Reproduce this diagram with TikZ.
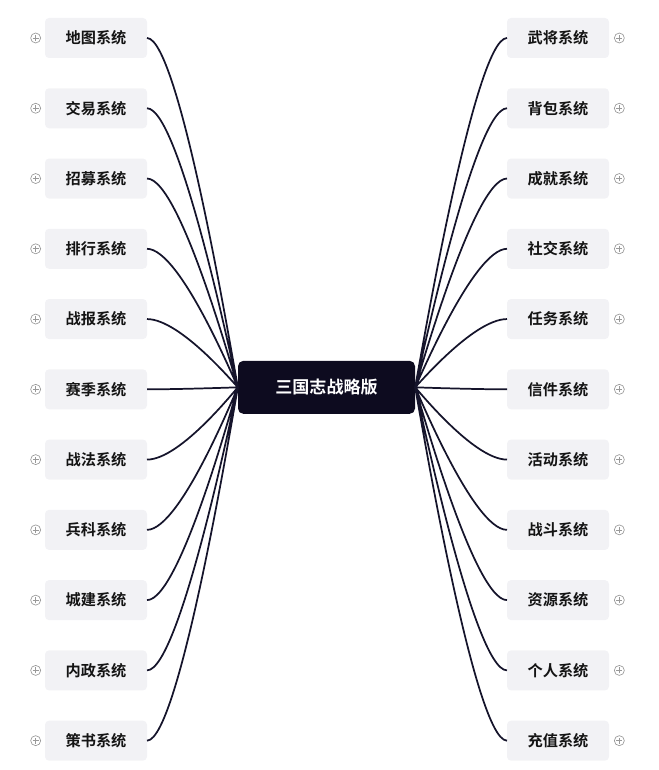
\documentclass[tikz,border=0pt]{standalone}
\usepackage{fontspec}
\setmainfont{Noto Sans CJK SC}[BoldFont={Noto Sans CJK SC Bold}]
\usepackage{xcolor}
\usetikzlibrary{positioning}

\definecolor{hubfill}{HTML}{0D0B1F}
\definecolor{boxfill}{HTML}{F2F2F5}
\definecolor{linkcol}{HTML}{15142B}
\definecolor{txtcol}{HTML}{141414}

\begin{document}
\begin{tikzpicture}[
  x=0.75pt, y=-0.75pt,
  node distance=22.7pt and 270pt,
  every node/.style={font=\bfseries\fontsize{11.4pt}{13pt}\selectfont},
  box/.style={rectangle, rounded corners=3pt, fill=boxfill, text=txtcol, minimum width=76.5pt, minimum height=30pt, inner sep=0pt, outer sep=0pt},
  hub/.style={rectangle, rounded corners=4pt, fill=hubfill, text=white, minimum width=132.75pt, minimum height=39.75pt, outer sep=0pt, font=\bfseries\fontsize{12.8pt}{15pt}\selectfont},
  plus/.style={circle, draw=gray!80, line width=0.5pt, minimum size=7.5pt, inner sep=0pt,
    path picture={\draw[gray!80, line width=0.5pt]
      ([xshift=-2.2pt]path picture bounding box.center) -- ([xshift=2.2pt]path picture bounding box.center)
      ([yshift=-2.2pt]path picture bounding box.center) -- ([yshift=2.2pt]path picture bounding box.center);}},
  link/.style={line width=1.3pt, linkcol},
  fromleft/.style={to path={.. controls +(25.5pt,0) and +(-0.75pt,0) .. (\tikztotarget)}},
  fromright/.style={to path={.. controls +(-25.5pt,0) and +(0.75pt,0) .. (\tikztotarget)}},
]
\useasboundingbox (0,0) rectangle (658,770);

% Left branches
\node[box] (l1) at (96,38) {地图系统};
\node[box, below=of l1] (l2) {交易系统};
\node[box, below=of l2] (l3) {招募系统};
\node[box, below=of l3] (l4) {排行系统};
\node[box, below=of l4] (l5) {战报系统};
\node[box, below=of l5] (l6) {赛季系统};
\node[box, below=of l6] (l7) {战法系统};
\node[box, below=of l7] (l8) {兵科系统};
\node[box, below=of l8] (l9) {城建系统};
\node[box, below=of l9] (l10) {内政系统};
\node[box, below=of l10] (l11) {策书系统};

% Right branches
\node[box, right=of l1] (r1) {武将系统};
\node[box, right=of l2] (r2) {背包系统};
\node[box, right=of l3] (r3) {成就系统};
\node[box, right=of l4] (r4) {社交系统};
\node[box, right=of l5] (r5) {任务系统};
\node[box, right=of l6] (r6) {信件系统};
\node[box, right=of l7] (r7) {活动系统};
\node[box, right=of l8] (r8) {战斗系统};
\node[box, right=of l9] (r9) {资源系统};
\node[box, right=of l10] (r10) {个人系统};
\node[box, right=of l11] (r11) {充值系统};

% Central topic
\node[hub, right=68.25pt of l6, yshift=1.5pt] (hub) {三国志战略版};

% Expand icons
\node[plus, left=3pt of l1] (pl1) {};
\node[plus, left=3pt of l2] (pl2) {};
\node[plus, left=3pt of l3] (pl3) {};
\node[plus, left=3pt of l4] (pl4) {};
\node[plus, left=3pt of l5] (pl5) {};
\node[plus, left=3pt of l6] (pl6) {};
\node[plus, left=3pt of l7] (pl7) {};
\node[plus, left=3pt of l8] (pl8) {};
\node[plus, left=3pt of l9] (pl9) {};
\node[plus, left=3pt of l10] (pl10) {};
\node[plus, left=3pt of l11] (pl11) {};
\node[plus, right=3.75pt of r1] (pr1) {};
\node[plus, right=3.75pt of r2] (pr2) {};
\node[plus, right=3.75pt of r3] (pr3) {};
\node[plus, right=3.75pt of r4] (pr4) {};
\node[plus, right=3.75pt of r5] (pr5) {};
\node[plus, right=3.75pt of r6] (pr6) {};
\node[plus, right=3.75pt of r7] (pr7) {};
\node[plus, right=3.75pt of r8] (pr8) {};
\node[plus, right=3.75pt of r9] (pr9) {};
\node[plus, right=3.75pt of r10] (pr10) {};
\node[plus, right=3.75pt of r11] (pr11) {};

% Connectors on the left
\draw[link, fromleft] (l1.east) to (hub.west) (l2.east) to (hub.west) (l3.east) to (hub.west)
  (l4.east) to (hub.west) (l5.east) to (hub.west) (l6.east) to (hub.west) (l7.east) to (hub.west)
  (l8.east) to (hub.west) (l9.east) to (hub.west) (l10.east) to (hub.west) (l11.east) to (hub.west);

% Connectors on the right
\draw[link, fromright] (r1.west) to (hub.east) (r2.west) to (hub.east) (r3.west) to (hub.east)
  (r4.west) to (hub.east) (r5.west) to (hub.east) (r6.west) to (hub.east) (r7.west) to (hub.east)
  (r8.west) to (hub.east) (r9.west) to (hub.east) (r10.west) to (hub.east) (r11.west) to (hub.east);

\end{tikzpicture}
\end{document}
